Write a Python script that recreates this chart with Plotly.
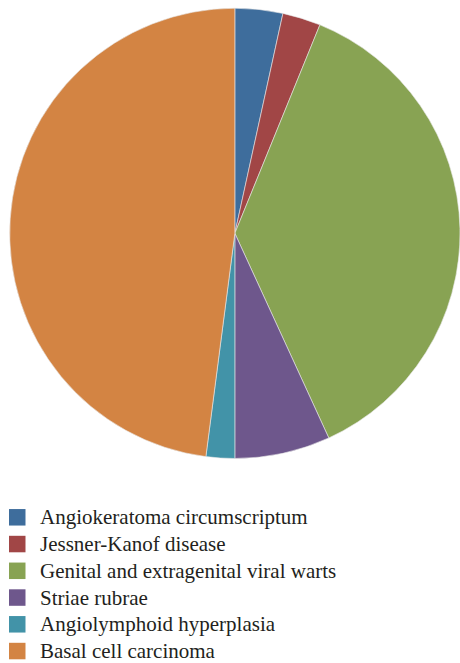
import plotly.graph_objects as go

labels = [
    "Angiokeratoma circumscriptum",
    "Jessner-Kanof disease",
    "Genital and extragenital viral warts",
    "Striae rubrae",
    "Angiolymphoid hyperplasia",
    "Basal cell carcinoma",
]
values = [5, 4, 54, 10, 3, 70]
colors = ["#3e6d9c", "#a14646", "#88a353", "#6e578c", "#4293a8", "#d38443"]

W, H = 460, 663

fig = go.Figure()
fig.add_trace(go.Pie(
    labels=labels,
    values=values,
    sort=False,
    direction="clockwise",
    rotation=0,
    textinfo="none",
    hoverinfo="label+value+percent",
    marker=dict(colors=colors, line=dict(color="#e8e8e8", width=0.6)),
    domain=dict(x=[0.0211, 1.0], y=[0.3084, 0.9877]),
    showlegend=False,
))

# custom legend (larger swatches than Plotly's default)
row_y0 = 517.3
row_dy = 26.75
sq = 16.5
for i, (lab, col) in enumerate(zip(labels, colors)):
    yc = row_y0 + i * row_dy
    fig.add_shape(
        type="rect", xref="paper", yref="paper",
        x0=9 / W, x1=(9 + sq) / W,
        y0=1 - (yc + sq / 2) / H, y1=1 - (yc - sq / 2) / H,
        fillcolor=col, line=dict(width=0),
    )
    fig.add_annotation(
        xref="paper", yref="paper",
        x=38 / W, y=1 - yc / H,
        xanchor="left", yanchor="middle",
        text=lab, showarrow=False,
        font=dict(family="Liberation Serif, Times New Roman, serif", size=21, color="#231f20"),
    )

fig.update_layout(
    width=W, height=H,
    margin=dict(l=0, r=0, t=0, b=0),
    paper_bgcolor="white",
    plot_bgcolor="white",
)

fig.write_html(
    "out.html",
    config={"displayModeBar": False},
    post_script="document.body.style.margin='0';document.body.style.padding='0';",
)
